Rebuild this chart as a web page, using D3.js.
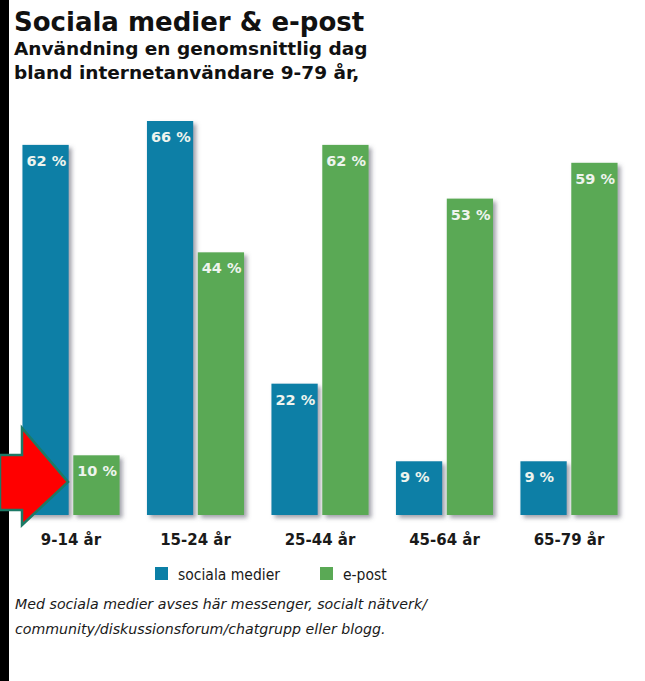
<!DOCTYPE html>
<html lang="sv">
<head>
  <meta charset="UTF-8">
  <title>Sociala medier & e-post</title>
  <script src="https://d3js.org/d3.v7.min.js"></script>
  <style>
    body {
      margin: 0;
      background-color: #ffffff;
      font-family: "DejaVu Sans", Verdana, sans-serif;
    }
    svg { display: block; }
  </style>
</head>
<body>
  <div id="chart"></div>

  <script>
    // data
    const ageGroups = ['9-14 år', '15-24 år', '25-44 år', '45-64 år', '65-79 år'];
    const socialMedia = [62, 66, 22, 9, 9];
    const email = [10, 44, 62, 53, 59];
    const seriesNames = ['sociala medier', 'e-post'];

    const width = 645, height = 681;
    const colors = { social: '#0b7fa6', email: '#5aa955' };

    const svg = d3.select('#chart')
      .append('svg')
      .attr('width', width)
      .attr('height', height);

    // drop shadow like the original bars
    const defs = svg.append('defs');
    const shadow = defs.append('filter')
      .attr('id', 'shadow')
      .attr('x', '-20%').attr('y', '-10%')
      .attr('width', '150%').attr('height', '130%');
    shadow.append('feDropShadow')
      .attr('dx', 3).attr('dy', 3)
      .attr('stdDeviation', 2.2)
      .attr('flood-color', '#555566')
      .attr('flood-opacity', 0.55);

    // black strip at the left edge
    svg.append('rect')
      .attr('x', 0).attr('y', 0)
      .attr('width', 9).attr('height', height)
      .attr('fill', '#000000');

    // titles
    svg.append('text')
      .attr('x', 14).attr('y', 31)
      .attr('font-size', 26).attr('font-weight', 'bold')
      .attr('fill', '#111')
      .text('Sociala medier & e-post');
    svg.append('text')
      .attr('x', 14).attr('y', 55)
      .attr('font-size', 18.5).attr('font-weight', 'bold')
      .attr('fill', '#111')
      .text('Användning en genomsnittlig dag');
    svg.append('text')
      .attr('x', 14).attr('y', 79)
      .attr('font-size', 18.5).attr('font-weight', 'bold')
      .attr('fill', '#111')
      .text('bland internetanvändare 9-79 år,');

    // scales
    const x0 = d3.scaleBand()
      .domain(ageGroups)
      .range([10, 630])
      .paddingInner(0.22)
      .paddingOuter(0.1);

    const x1 = d3.scaleBand()
      .domain(['social', 'email'])
      .range([0, x0.bandwidth()])
      .paddingInner(0.09);

    const y = d3.scaleLinear()
      .domain([0, 66])
      .range([515, 121]);

    const data = ageGroups.map((g, i) => ({
      group: g,
      values: [
        { key: 'social', value: socialMedia[i] },
        { key: 'email', value: email[i] }
      ]
    }));

    const groups = svg.selectAll('g.group')
      .data(data)
      .enter()
      .append('g')
      .attr('class', 'group')
      .attr('transform', d => `translate(${x0(d.group)},0)`);

    groups.selectAll('rect')
      .data(d => d.values)
      .enter()
      .append('rect')
      .attr('x', d => x1(d.key))
      .attr('y', d => y(d.value))
      .attr('width', x1.bandwidth())
      .attr('height', d => y(0) - y(d.value))
      .attr('fill', d => colors[d.key])
      .attr('filter', 'url(#shadow)');

    groups.selectAll('text.val')
      .data(d => d.values)
      .enter()
      .append('text')
      .attr('class', 'val')
      .attr('x', d => x1(d.key) + 4)
      .attr('y', d => y(d.value) + 21)
      .attr('font-size', 14.5)
      .attr('font-weight', 'bold')
      .attr('fill', '#eef4ee')
      .text(d => d.value + ' %');

    // category labels
    svg.selectAll('text.cat')
      .data(ageGroups)
      .enter()
      .append('text')
      .attr('class', 'cat')
      .attr('x', d => x0(d) + x0.bandwidth() / 2)
      .attr('y', 545)
      .attr('text-anchor', 'middle')
      .attr('font-size', 15)
      .attr('font-weight', 'bold')
      .attr('fill', '#1a1a1a')
      .text(d => d);

    // legend
    const legendX = [155, 320];
    const legendKeys = ['social', 'email'];
    seriesNames.forEach((name, i) => {
      svg.append('rect')
        .attr('x', legendX[i]).attr('y', 567)
        .attr('width', 13).attr('height', 13)
        .attr('fill', colors[legendKeys[i]]);
      svg.append('text')
        .attr('x', legendX[i] + 23).attr('y', 580)
        .attr('font-family', '"DejaVu Sans Condensed", "DejaVu Sans", sans-serif')
        .attr('font-size', 15.5)
        .attr('fill', '#1a1a1a')
        .text(name);
    });

    // footnote
    const notes = [
      'Med sociala medier avses här messenger, socialt nätverk/',
      'community/diskussionsforum/chatgrupp eller blogg.'
    ];
    svg.selectAll('text.note')
      .data(notes)
      .enter()
      .append('text')
      .attr('class', 'note')
      .attr('x', 15)
      .attr('y', (d, i) => 609 + i * 25)
      .attr('font-size', 14.2)
      .attr('font-style', 'italic')
      .attr('fill', '#1a1a1a')
      .text(d => d);

    // red annotation arrow pointing at the 10 % bar
    const arrow = [[0, 455], [22, 455], [22, 428], [68, 482], [22, 525], [22, 510], [0, 510]];
    svg.append('polygon')
      .attr('points', arrow.map(p => p.join(',')).join(' '))
      .attr('fill', '#ff0000')
      .attr('stroke', '#1c7a66')
      .attr('stroke-width', 2.5)
      .attr('stroke-linejoin', 'miter');
  </script>
</body>
</html>
